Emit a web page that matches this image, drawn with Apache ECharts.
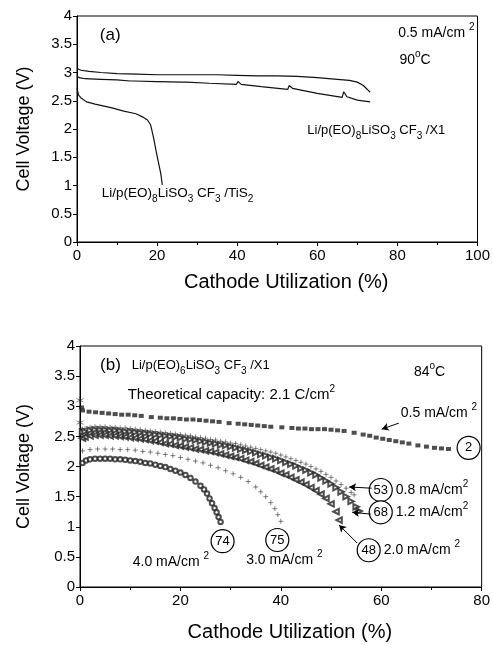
<!DOCTYPE html>
<html>
<head>
<meta charset="utf-8">
<script src="https://cdn.jsdelivr.net/npm/echarts@6/dist/echarts.min.js"></script>
<style>
html,body{margin:0;padding:0;background:#fff}
#chart{width:493px;height:645px}
</style>
</head>
<body>
<div id="chart"></div>
<script>
var FONT = 'Liberation Sans';

// panel (a) - 0.5 mA/cm2, 90 C
var x1UpperX = [0, 1, 3, 6, 10, 15, 20, 27, 35, 40, 45, 50, 55, 60, 65, 68, 70, 71.5, 72.5, 73.2];
var x1UpperV = [3.07, 3.04, 3.02, 3.00, 2.98, 2.97, 2.96, 2.96, 2.96, 2.95, 2.94, 2.94, 2.93, 2.91, 2.88, 2.86, 2.83, 2.77, 2.70, 2.65];
var x1LowerX = [0, 0.5, 2, 6, 10, 13.2, 13.5, 14.2, 20, 26.4, 26.7, 27.4, 33, 39.8, 40.2, 41, 46, 52.6, 53, 53.8, 60, 66.2, 66.6, 67.4, 70, 73.2];
var x1LowerV = [2.94, 2.91, 2.89, 2.88, 2.87, 2.85, 2.88, 2.85, 2.84, 2.83, 2.86, 2.83, 2.81, 2.79, 2.84, 2.79, 2.75, 2.70, 2.77, 2.72, 2.63, 2.56, 2.66, 2.57, 2.51, 2.48];
var tis2X = [0, 0.4, 1, 2.4, 4.5, 6.5, 9, 11.4, 14.7, 16.5, 17.6, 18.4, 19.1, 19.7, 20.3, 20.9, 21.3];
var tis2V = [2.72, 2.60, 2.55, 2.48, 2.44, 2.41, 2.37, 2.32, 2.27, 2.21, 2.16, 2.07, 1.85, 1.63, 1.42, 1.22, 1.01];

// panel (b) - 84 C, different current densities
var cd05X = [0.3, 0.5, 1.8, 3.1, 4.4, 5.7, 7.0, 8.3, 9.6, 10.9, 12.2, 14.2, 16.0, 17.3, 18.6, 19.9, 21.2, 22.5, 23.8, 25.1, 26.4, 27.7, 29.7, 31.5, 32.8, 34.1, 35.4, 36.7, 38.0, 40.2, 42.2, 43.5, 44.8, 46.1, 47.4, 48.7, 50.0, 51.3, 52.6, 54.6, 56.4, 57.7, 59.0, 60.3, 61.6, 62.9, 64.2, 65.5, 67.3, 69.0, 70.6, 72.0, 73.4];
var cd05V = [2.98, 2.93, 2.91, 2.90, 2.89, 2.88, 2.87, 2.86, 2.86, 2.85, 2.84, 2.82, 2.81, 2.80, 2.80, 2.79, 2.78, 2.78, 2.77, 2.76, 2.75, 2.74, 2.72, 2.71, 2.70, 2.69, 2.68, 2.67, 2.66, 2.65, 2.64, 2.63, 2.63, 2.62, 2.62, 2.62, 2.61, 2.60, 2.59, 2.56, 2.53, 2.51, 2.48, 2.46, 2.44, 2.42, 2.40, 2.38, 2.35, 2.33, 2.31, 2.30, 2.29];

var cd08X = [0.5, 1, 2, 3, 4, 5, 6, 7, 8, 9, 10, 11, 12, 13, 14, 15, 16, 17, 18, 19, 20, 21, 22, 23, 24, 25, 26, 27, 28, 29, 30, 31, 32, 33, 34, 35, 36, 37, 38, 39, 40, 41, 42, 43, 44, 45, 46, 47, 48, 49, 50, 51, 52, 53, 54, 54.6];
var cd08V = [2.62, 2.63, 2.65, 2.66, 2.66, 2.66, 2.65, 2.65, 2.64, 2.64, 2.63, 2.62, 2.61, 2.60, 2.59, 2.58, 2.57, 2.56, 2.55, 2.54, 2.53, 2.52, 2.51, 2.49, 2.48, 2.47, 2.45, 2.44, 2.42, 2.41, 2.39, 2.38, 2.36, 2.34, 2.32, 2.30, 2.28, 2.26, 2.24, 2.22, 2.19, 2.16, 2.13, 2.10, 2.07, 2.04, 2.00, 1.96, 1.92, 1.87, 1.82, 1.76, 1.70, 1.64, 1.57, 1.53];

var cd12X = [0.5, 1, 2, 3, 4, 5, 6, 7, 8, 9, 10, 11, 12, 13, 14, 15, 16, 17, 18, 19, 20, 21, 22, 23, 24, 25, 26, 27, 28, 29, 30, 31, 32, 33, 34, 35, 36, 37, 38, 39, 40, 41, 42, 43, 44, 45, 46, 47, 48, 49, 50, 51, 52, 53, 54, 55, 55.6];
var cd12V = [2.57, 2.58, 2.60, 2.61, 2.61, 2.61, 2.60, 2.60, 2.59, 2.58, 2.58, 2.57, 2.56, 2.55, 2.54, 2.53, 2.52, 2.51, 2.50, 2.49, 2.48, 2.46, 2.45, 2.44, 2.42, 2.41, 2.39, 2.38, 2.36, 2.35, 2.33, 2.31, 2.29, 2.27, 2.25, 2.23, 2.20, 2.18, 2.15, 2.13, 2.10, 2.07, 2.04, 2.01, 1.97, 1.94, 1.90, 1.86, 1.81, 1.76, 1.71, 1.65, 1.58, 1.50, 1.42, 1.33, 1.26];

var cd20X = [0.5, 1, 2, 3, 4, 5, 6, 7, 8, 9, 10, 11, 12, 13, 14, 15, 16, 17, 18, 19, 20, 21, 22, 23, 24, 25, 26, 27, 28, 29, 30, 31, 32, 33, 34, 35, 36, 37, 38, 39, 40, 41, 42, 43, 44, 45, 46, 47, 48, 49, 50, 51, 51.6];
var cd20V = [2.47, 2.49, 2.51, 2.52, 2.52, 2.52, 2.51, 2.51, 2.50, 2.49, 2.48, 2.47, 2.46, 2.45, 2.43, 2.42, 2.40, 2.38, 2.37, 2.35, 2.34, 2.32, 2.31, 2.29, 2.28, 2.26, 2.25, 2.23, 2.21, 2.19, 2.17, 2.15, 2.13, 2.10, 2.08, 2.05, 2.02, 1.99, 1.96, 1.93, 1.89, 1.86, 1.82, 1.78, 1.74, 1.70, 1.65, 1.60, 1.54, 1.47, 1.38, 1.25, 1.11];

var cd30X = [0.5, 2, 3.5, 5, 6.5, 8, 9.5, 11, 12.5, 14, 15.5, 17, 18.5, 20, 21.5, 23, 24.5, 26, 27.5, 29, 30.5, 32, 33.5, 35, 36, 37, 38, 38.8, 39.4, 40];
var cd30V = [2.26, 2.28, 2.29, 2.29, 2.29, 2.28, 2.28, 2.27, 2.25, 2.24, 2.22, 2.20, 2.18, 2.15, 2.12, 2.09, 2.06, 2.02, 1.98, 1.93, 1.88, 1.82, 1.75, 1.66, 1.58, 1.50, 1.40, 1.30, 1.20, 1.09];

var cd40X = [0.5, 1.2, 2, 3, 4, 5, 6, 7, 8, 9, 10, 11, 12, 13, 14, 15, 16, 17, 18, 19, 20, 21, 22, 23, 24, 24.7, 25.3, 25.8, 26.3, 26.8, 27.2, 27.6, 28];
var cd40V = [2.06, 2.10, 2.12, 2.13, 2.13, 2.13, 2.13, 2.12, 2.12, 2.11, 2.10, 2.09, 2.08, 2.06, 2.05, 2.03, 2.01, 1.99, 1.96, 1.93, 1.90, 1.86, 1.81, 1.75, 1.68, 1.62, 1.55, 1.47, 1.39, 1.31, 1.24, 1.16, 1.08];

var startX = [0, 0];
var startV = [3.10, 2.73];

function pairs(xs, ys) {
	return xs.map(function (x, i) { return [x, ys[i]]; });
}

var myChart = echarts.init(document.getElementById('chart'));

var rich = {
	sub: { fontSize: 10, lineHeight: 10, verticalAlign: 'bottom', fontFamily: FONT, fill: '#000' },
	sup: { fontSize: 10, lineHeight: 10, verticalAlign: 'top', fontFamily: FONT, fill: '#000' }
};

function xAxisCfg(idx, max, gap) {
	return {
		gridIndex: idx, type: 'value', min: 0, max: max, interval: 20,
		name: 'Cathode Utilization (%)', nameLocation: 'middle', nameGap: gap,
		nameTextStyle: { fontSize: 20, fontFamily: FONT, color: '#000', padding: [0, 0, 0, 18] },
		axisLine: { onZero: false, lineStyle: { color: '#000', width: 1 } },
		axisTick: { length: 4, lineStyle: { color: '#000' } },
		minorTick: { show: true, splitNumber: 2, length: 3, lineStyle: { color: '#000' } },
		axisLabel: { fontSize: 15, fontFamily: FONT, color: '#000', margin: 6 },
		splitLine: { show: false }
	};
}
function yAxisCfg(idx, gap) {
	return {
		gridIndex: idx, type: 'value', min: 0, max: 4, interval: 0.5,
		name: 'Cell Voltage (V)', nameLocation: 'middle', nameGap: gap,
		nameTextStyle: { fontSize: 18, fontFamily: FONT, color: '#000' },
		axisLine: { onZero: false, lineStyle: { color: '#000', width: 1 } },
		axisTick: { length: 4, lineStyle: { color: '#000' } },
		axisLabel: { fontSize: 15, fontFamily: FONT, color: '#000', margin: 5 },
		splitLine: { show: false }
	};
}
function curve(data) {
	return {
		type: 'line', xAxisIndex: 0, yAxisIndex: 0, data: data,
		showSymbol: false, symbol: 'none', animation: false,
		lineStyle: { color: '#111', width: 1.2 }
	};
}
function dots(data, symbol, size, rotate) {
	var isPath = symbol.indexOf('path') === 0;
	return {
		type: 'scatter', xAxisIndex: 1, yAxisIndex: 1, data: data, animation: false,
		symbol: symbol, symbolSize: size, symbolRotate: rotate || 0,
		itemStyle: { color: isPath ? 'none' : '#222', borderColor: '#222', borderWidth: (symbol === 'rect') ? 0 : 0.7 }
	};
}

var plusPath = 'path://M0,5L10,5M5,0L5,10';
var starPath = 'path://M5,0L5,10M0.7,2.5L9.3,7.5M0.7,7.5L9.3,2.5';

var arrows = [
	[[63.5, 2.72], [60.1, 2.62]],
	[[58.1, 1.64], [53.6, 1.66]],
	[[57.9, 1.21], [54.2, 1.24]],
	[[55.2, 0.73], [51.6, 1.03]]
];

var option = {
	backgroundColor: '#fff',
	animation: false,
	grid: [
		{ left: 77, top: 16, width: 405, height: 226, show: true, borderColor: '#000', borderWidth: 1, backgroundColor: 'transparent' },
		{ left: 80, top: 346, width: 403, height: 241, show: true, borderColor: '#000', borderWidth: 1, backgroundColor: 'transparent' }
	],
	xAxis: [xAxisCfg(0, 100, 30), xAxisCfg(1, 80, 35)],
	yAxis: [yAxisCfg(0, 44), yAxisCfg(1, 47)],
	series: [
		curve(pairs(x1UpperX, x1UpperV)),
		curve(pairs(x1LowerX, x1LowerV)),
		curve(pairs(tis2X, tis2V)),
		dots(pairs(cd05X, cd05V), 'rect', [5, 4]),
		dots(pairs(cd08X, cd08V), plusPath, 5),
		dots(pairs(cd12X, cd12V), 'emptyTriangle', 5.5, -90),
		dots(pairs(cd20X, cd20V), 'emptyTriangle', 5.5, 90),
		dots(pairs(cd30X, cd30V), plusPath, 5),
		dots(pairs(cd40X, cd40V), 'emptyCircle', 4.5),
		dots(pairs(startX, startV), starPath, 7),
		{
			type: 'line', xAxisIndex: 1, yAxisIndex: 1, data: [], animation: false,
			markLine: {
				silent: true, symbol: ['none', 'arrow'], symbolSize: [6, 7],
				label: { show: false },
				lineStyle: { color: '#000', width: 1, type: 'solid' },
				data: arrows.map(function (a) { return [{ coord: a[0] }, { coord: a[1] }]; })
			}
		}
	]
};
myChart.setOption(option);

// annotations placed in data coordinates
var texts = [
	{ g: 0, at: [5.7, 3.66], t: '(a)', size: 17 },
	{ g: 0, at: [80.2, 3.70], t: '0.5 mA/cm {sup|2}', size: 14 },
	{ g: 0, at: [80.5, 3.22], t: '90{sup|o}C', size: 14 },
	{ g: 0, at: [57.5, 1.98], t: 'Li/p(EO){sub|8}LiSO{sub|3} CF{sub|3} /X1', size: 13 },
	{ g: 0, at: [6.2, 0.87], t: 'Li/p(EO){sub|8}LiSO{sub|3} CF{sub|3} /TiS{sub|2}', size: 13.5 },
	{ g: 1, at: [4, 3.68], t: '(b)', size: 17 },
	{ g: 1, at: [10.3, 3.68], t: 'Li/p(EO){sub|6}LiSO{sub|3} CF{sub|3} /X1', size: 13 },
	{ g: 1, at: [9.5, 3.19], t: 'Theoretical capacity: 2.1 C/cm{sup|2}', size: 15 },
	{ g: 1, at: [66.5, 3.57], t: '84{sup|o}C', size: 14 },
	{ g: 1, at: [63.9, 2.89], t: '0.5 mA/cm {sup|2}', size: 14 },
	{ g: 1, at: [62.9, 1.61], t: '0.8 mA/cm{sup|2}', size: 14 },
	{ g: 1, at: [62.9, 1.24], t: '1.2 mA/cm{sup|2}', size: 14 },
	{ g: 1, at: [60.5, 0.61], t: '2.0 mA/cm {sup|2}', size: 14 },
	{ g: 1, at: [10.5, 0.41], t: '4.0 mA/cm {sup|2}', size: 14 },
	{ g: 1, at: [33.1, 0.45], t: '3.0 mA/cm {sup|2}', size: 14 }
];
var circles = [
	{ at: [77.4, 2.31], t: '2' },
	{ at: [59.9, 1.61], t: '53' },
	{ at: [59.9, 1.24], t: '68' },
	{ at: [57.5, 0.61], t: '48' },
	{ at: [28.4, 0.76], t: '74' },
	{ at: [39.3, 0.78], t: '75' }
];

var elements = [];
texts.forEach(function (d) {
	var p = myChart.convertToPixel({ gridIndex: d.g }, d.at);
	elements.push({
		type: 'text', x: p[0], y: p[1], silent: true,
		style: {
			text: d.t, rich: rich, fontSize: d.size, fontFamily: FONT, fill: '#000',
			lineHeight: 22, align: 'left', verticalAlign: 'middle'
		}
	});
});
circles.forEach(function (d) {
	var p = myChart.convertToPixel({ gridIndex: 1 }, d.at);
	elements.push({
		type: 'circle', silent: true,
		shape: { cx: p[0], cy: p[1], r: 11.5 },
		style: { fill: '#fff', stroke: '#000', lineWidth: 1.2 }
	});
	elements.push({
		type: 'text', x: p[0], y: p[1], silent: true,
		style: { text: d.t, fontSize: 13, fontFamily: FONT, fill: '#000', align: 'center', verticalAlign: 'middle' }
	});
});
myChart.setOption({ graphic: elements });
</script>
</body>
</html>
